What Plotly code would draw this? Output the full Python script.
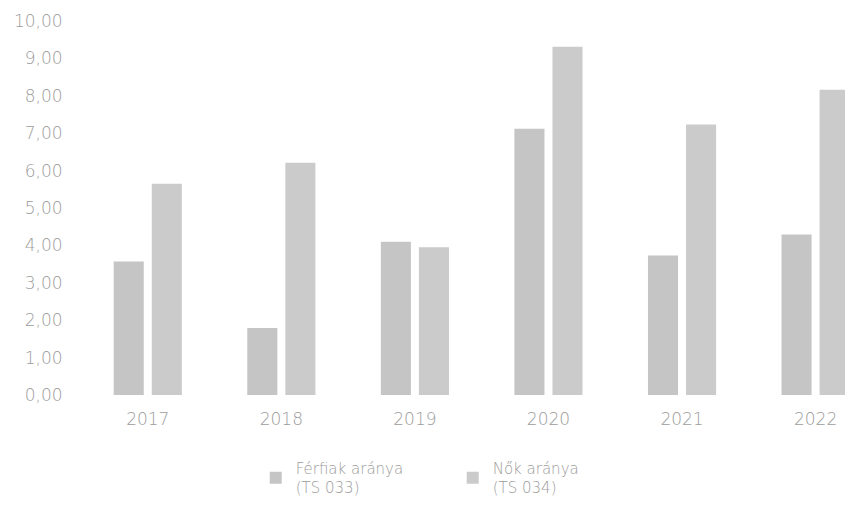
import plotly.graph_objects as go

years = ["2017", "2018", "2019", "2020", "2021", "2022"]
men = [3.57, 1.79, 4.10, 7.12, 3.73, 4.29]
women = [5.65, 6.21, 3.95, 9.31, 7.23, 8.16]
y_ticks = [0, 1, 2, 3, 4, 5, 6, 7, 8, 9, 10]
y_ticktext = ["0,00", "1,00", "2,00", "3,00", "4,00", "5,00", "6,00", "7,00", "8,00", "9,00", "10,00"]
names = ["Férfiak aránya<br>(TS 033)", "Nők aránya<br>(TS 034)"]

text_color = "#9c9c9c"
font_family = "DejaVu Sans, sans-serif"

fig = go.Figure()
fig.add_trace(go.Bar(x=years, y=men, name=names[0], marker=dict(color="#c5c5c5", line=dict(width=0))))
fig.add_trace(go.Bar(x=years, y=women, name=names[1], marker=dict(color="#cbcbcb", line=dict(width=0))))

fig.update_layout(
    width=853, height=517,
    margin=dict(l=73, r=0, t=13, b=130),
    paper_bgcolor="white", plot_bgcolor="white",
    barmode="group", bargap=0.43, bargroupgap=0.21,
    font=dict(family=font_family, size=17, color=text_color, weight=200),
    showlegend=True,
    legend=dict(orientation="h", x=0.224, xanchor="left", y=-0.152, yanchor="top",
                font=dict(size=15, color=text_color, weight=200), itemwidth=30,
                traceorder="normal", entrywidth=152),
)
fig.update_xaxes(type="category", range=[-0.5, 5.34], showline=False, showgrid=False,
                 ticks="outside", ticklen=9, tickcolor="rgba(0,0,0,0)",
                 tickfont=dict(size=17, color=text_color, weight=200))
fig.update_yaxes(range=[0, 10], tickvals=y_ticks, ticktext=y_ticktext, showgrid=False,
                 showline=False, zeroline=False, ticks="outside", ticklen=14,
                 tickcolor="rgba(0,0,0,0)", tickfont=dict(size=17, color=text_color, weight=200))

fig.write_html("out.html")
